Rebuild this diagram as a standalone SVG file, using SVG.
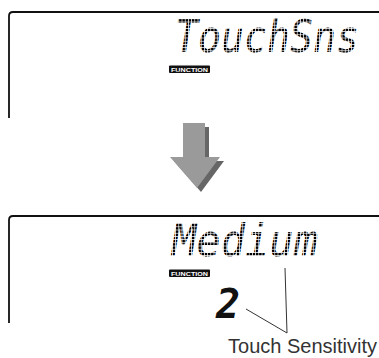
<svg xmlns="http://www.w3.org/2000/svg" width="379" height="358" viewBox="0 0 379 358">
<style>
.frame{fill:none;stroke:#111;stroke-width:1.8}
.lcd{font-family:"DejaVu Sans Mono",monospace;font-style:oblique;font-size:44px;fill:url(#dots)}
.badge{fill:#111}
.badgetxt{font-family:"Liberation Sans",Arial,sans-serif;font-size:6px;font-weight:bold;fill:#fff}
.lead{fill:none;stroke:#333;stroke-width:1}
.lbl{font-family:"Liberation Sans",Arial,sans-serif;font-size:20px;fill:#333}
</style>
<defs>
<pattern id="dots" width="3.2" height="3.2" patternUnits="userSpaceOnUse">
<rect x="0" y="0" width="2.5" height="2.5" fill="#000"/>
</pattern>
</defs>
<g id="display-top">
<path class="frame" d="M9,118 V16 Q9,12 13,12 H379"/>
<text class="lcd" x="175" y="52" textLength="184" lengthAdjust="spacingAndGlyphs">TouchSns</text>
<g id="badge-top">
<rect class="badge" x="169" y="65.5" width="41" height="7.5" rx="1"/>
<text class="badgetxt" x="189.5" y="71.6" text-anchor="middle" textLength="37" lengthAdjust="spacingAndGlyphs">FUNCTION</text>
</g>
</g>
<g id="arrow">
<polygon fill="#666" points="187,127 209,127 209,161 224,161 201,192 174,161 187,161"/>
<polygon fill="#9a9a9a" points="183,123 205,123 205,157 220,157 197,188 170,157 183,157"/>
</g>
<g id="display-bottom">
<path class="frame" d="M9,323 V220 Q9,216 13,216 H379"/>
<text class="lcd" x="172" y="256" textLength="146" lengthAdjust="spacingAndGlyphs">Medium</text>
<g id="badge-bottom">
<rect class="badge" x="169" y="269.5" width="41" height="7.5" rx="1"/>
<text class="badgetxt" x="189.5" y="275.6" text-anchor="middle" textLength="37" lengthAdjust="spacingAndGlyphs">FUNCTION</text>
</g>
<text x="216" y="318" font-family="DejaVu Sans Mono,monospace" font-style="oblique" font-weight="bold" font-size="40" fill="#111">2</text>
</g>
<g id="connectors">
<line class="lead" x1="246" y1="309" x2="287" y2="333"/>
<line class="lead" x1="285" y1="268" x2="287" y2="333"/>
</g>
<g id="label">
<text class="lbl" x="228" y="353" textLength="149" lengthAdjust="spacingAndGlyphs">Touch Sensitivity</text>
</g>
</svg>
